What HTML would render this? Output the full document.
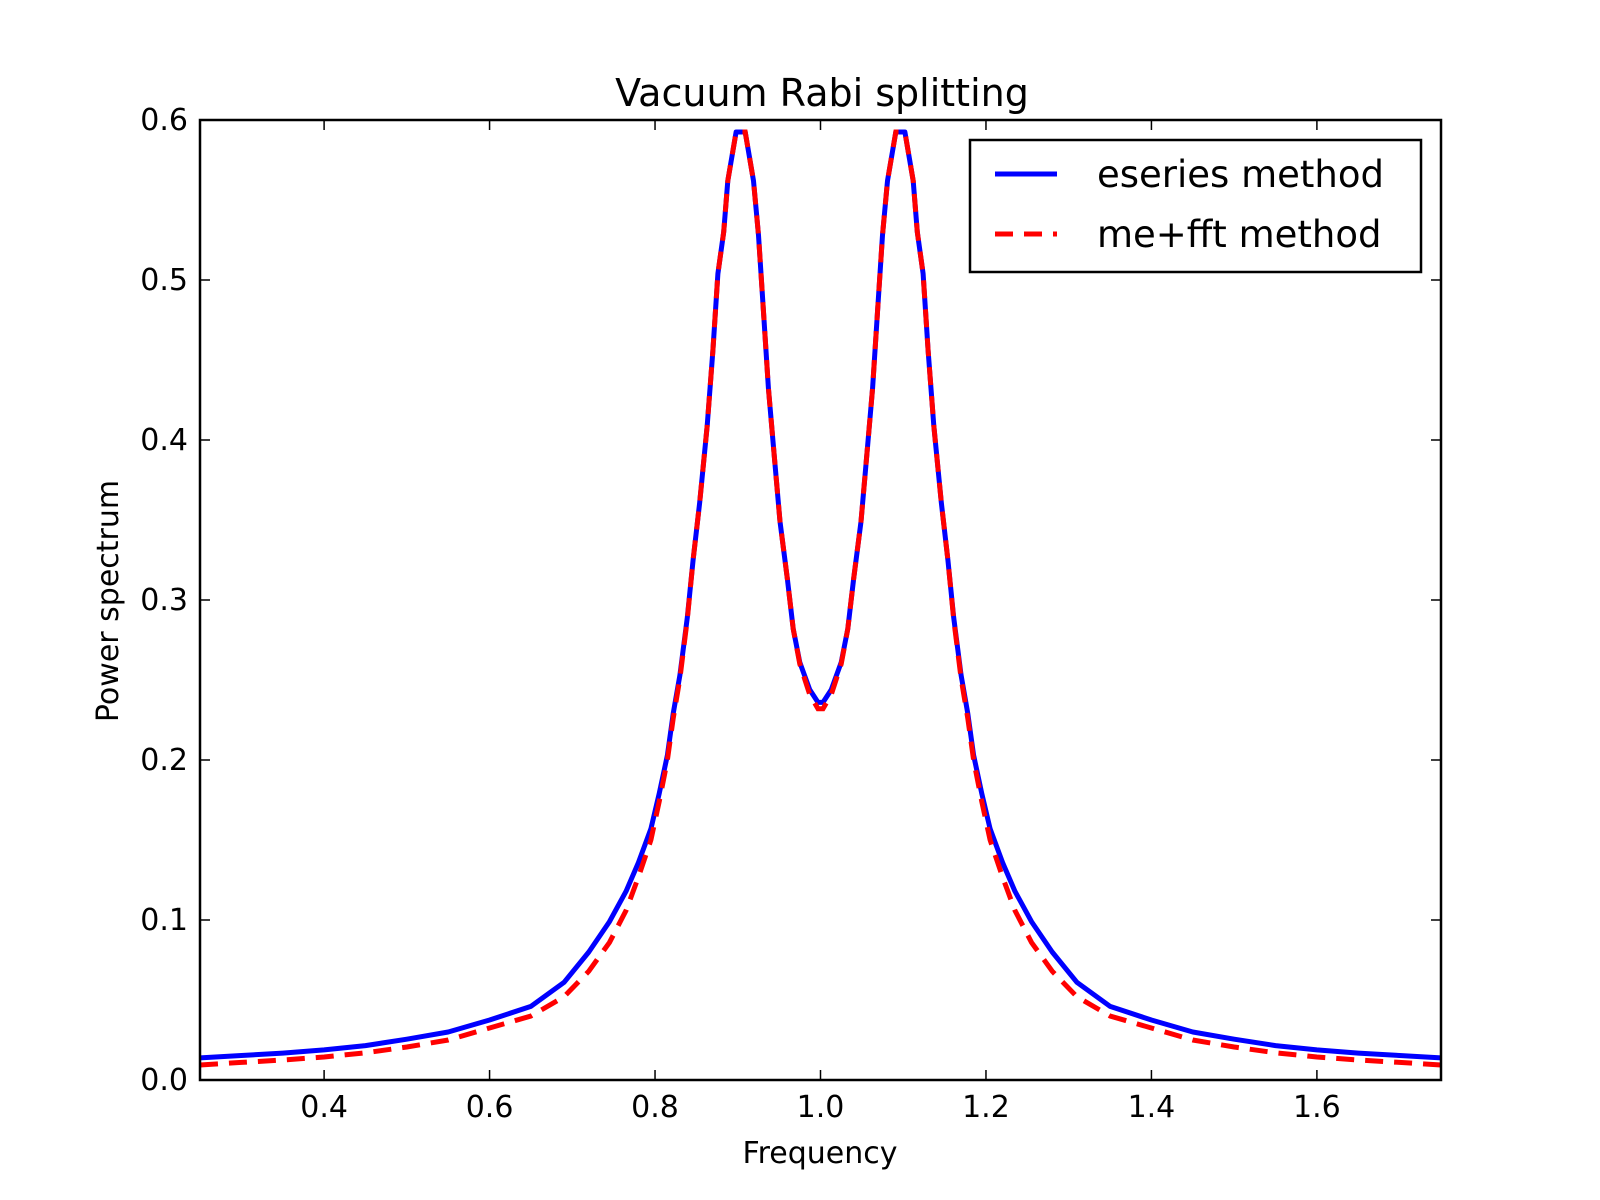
<!DOCTYPE html>
<html><head><meta charset="utf-8"><style>
html,body{margin:0;padding:0;background:#fff;}
svg text{font-family:"DejaVu Sans","Liberation Sans",sans-serif;fill:#000;}
</style></head><body>
<svg id="chart" width="1600" height="1200" viewBox="0 0 1600 1200" xmlns="http://www.w3.org/2000/svg" style="position:absolute;left:0;top:0">
<rect width="1600" height="1200" fill="#fff"/>
<g id="marks"></g>
<g id="axes"></g>
</svg>
<script>
const xs = [0.25,0.3,0.35,0.4,0.45,0.5,0.55,0.6,0.65,0.69,0.72,0.745,0.765,0.78,0.795,0.805,0.815,0.822,0.830,0.839,0.846,0.854,0.863,0.870,0.876,0.883,0.888,0.898,0.909,0.919,0.925,0.931,0.937,0.943,0.951,0.960,0.967,0.975,0.987,0.997,
1.003,1.013,1.025,1.033,1.040,1.049,1.057,1.063,1.069,1.075,1.081,1.091,1.102,1.112,1.117,1.124,1.130,1.137,1.146,1.154,1.161,1.170,1.178,1.185,1.195,1.205,1.22,1.235,1.255,1.28,1.31,1.35,1.4,1.45,1.5,1.55,1.6,1.65,1.7,1.75];
const eseries = [0.0138,0.0153,0.0168,0.0188,0.0215,0.0255,0.030,0.0375,0.046,0.061,0.080,0.099,0.118,0.136,0.157,0.179,0.203,0.229,0.253,0.289,0.325,0.361,0.409,0.456,0.504,0.530,0.562,0.5925,0.5925,0.562,0.528,0.481,0.4325,0.397,0.349,0.313,0.282,0.261,0.244,0.236,
0.236,0.244,0.261,0.282,0.313,0.349,0.397,0.4325,0.481,0.528,0.562,0.5925,0.5925,0.562,0.530,0.504,0.456,0.409,0.361,0.325,0.289,0.253,0.229,0.203,0.179,0.157,0.136,0.118,0.099,0.080,0.061,0.046,0.0375,0.030,0.0255,0.0215,0.0188,0.0168,0.0153,0.0138];
const mefft = [0.0094,0.011,0.0125,0.0144,0.017,0.0206,0.025,0.0325,0.040,0.052,0.068,0.086,0.106,0.127,0.150,0.174,0.200,0.226,0.251,0.288,0.325,0.361,0.409,0.456,0.504,0.530,0.562,0.5925,0.5925,0.562,0.528,0.481,0.4325,0.397,0.349,0.313,0.282,0.260,0.241,0.232,
0.232,0.241,0.260,0.282,0.313,0.349,0.397,0.4325,0.481,0.528,0.562,0.5925,0.5925,0.562,0.530,0.504,0.456,0.409,0.361,0.325,0.288,0.251,0.226,0.200,0.174,0.150,0.127,0.106,0.086,0.068,0.052,0.040,0.0325,0.025,0.0206,0.017,0.0144,0.0125,0.011,0.0094];
const xTicks = [0.4,0.6,0.8,1.0,1.2,1.4,1.6];
const xTickLabels = ["0.4","0.6","0.8","1.0","1.2","1.4","1.6"];
const yTicks = [0,0.1,0.2,0.3,0.4,0.5,0.6];
const yTickLabels = ["0.0","0.1","0.2","0.3","0.4","0.5","0.6"];

const L=200,R=1441,T=120,B=1080;
const xMin=0.25,xMax=1.75,yMin=0,yMax=0.6;
function sx(v){return L+(v-xMin)/(xMax-xMin)*(R-L);}
function sy(v){return B-(v-yMin)/(yMax-yMin)*(B-T);}
const NS="http://www.w3.org/2000/svg";
function mk(tag,attrs,parent){const e=document.createElementNS(NS,tag);for(const k in attrs)e.setAttribute(k,attrs[k]);parent.appendChild(e);return e;}
const marks=document.getElementById('marks'),axes=document.getElementById('axes');
const clip=mk('clipPath',{id:'clip'},marks);mk('rect',{x:L,y:T,width:R-L,height:B-T},clip);
function pts(ys){return xs.map((x,i)=>sx(x).toFixed(1)+','+sy(ys[i]).toFixed(1)).join(' ');}
const l1=mk('polyline',{points:pts(eseries),fill:'none',stroke:'#0000ff','stroke-width':5,'stroke-linejoin':'round','clip-path':'url(#clip)'},marks);


const l2=mk('polyline',{points:pts(mefft),fill:'none',stroke:'#ff0000','stroke-width':5,'stroke-dasharray':'18,11','clip-path':'url(#clip)'},marks);


const frame=mk('rect',{x:L,y:T,width:R-L,height:B-T,fill:'none',stroke:'#000','stroke-width':2.5},axes);


xTicks.forEach((v,i)=>{const x=sx(v);
 mk('line',{x1:x,x2:x,y1:B,y2:B-10,stroke:'#000','stroke-width':1.5},axes);
 mk('line',{x1:x,x2:x,y1:T,y2:T+10,stroke:'#000','stroke-width':1.5},axes);
 const t=mk('text',{x:x,y:B+37,'text-anchor':'middle','font-size':30},axes);t.textContent=xTickLabels[i];
 
 });
yTicks.forEach((v,i)=>{const y=sy(v);
 mk('line',{x1:L,x2:L+10,y1:y,y2:y,stroke:'#000','stroke-width':1.5},axes);
 mk('line',{x1:R,x2:R-10,y1:y,y2:y,stroke:'#000','stroke-width':1.5},axes);
 const t=mk('text',{x:L-12,y:y+10,'text-anchor':'end','font-size':30},axes);t.textContent=yTickLabels[i];
 
 });
</script>
<svg style="position:absolute;left:0;top:0" width="1600" height="1200" xmlns="http://www.w3.org/2000/svg">
<text x="822" y="106" text-anchor="middle" font-size="38">Vacuum Rabi splitting</text>
<text x="820" y="1163" text-anchor="middle" font-size="30">Frequency</text>
<text x="118" y="601" text-anchor="middle" font-size="30" transform="rotate(-90 118 601)">Power spectrum</text>
<g>
<rect x="970" y="140" width="451" height="132" fill="#fff" stroke="#000" stroke-width="2.5"/>
<line x1="995" x2="1057" y1="174" y2="174" stroke="#0000ff" stroke-width="5"/>
<text x="1097" y="187" font-size="37">eseries method</text>
<line x1="995" x2="1057" y1="234" y2="234" stroke="#ff0000" stroke-width="5" stroke-dasharray="18,11"/>
<text x="1097" y="247" font-size="37">me+fft method</text>
</g>
</svg>
</body></html>
